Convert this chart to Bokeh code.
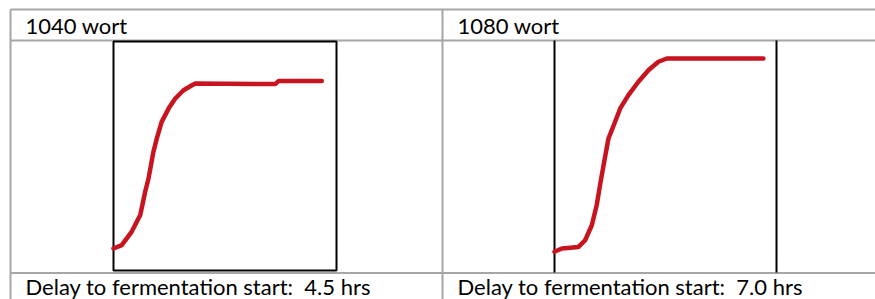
from bokeh.plotting import figure
from bokeh.models import Range1d
from bokeh.embed import file_html
from bokeh.resources import INLINE
from bokeh.core.properties import value

# ---- data (x: relative time, 0-100 ; y: relative fermentation progress, 0-100) ----
titles = ["1040 wort", "1080 wort"]
captions = ["Delay to fermentation start:\u00a0 4.5 hrs", "Delay to fermentation start:\u00a0 7.0 hrs"]

time_1040 = [0, 3.7, 8.2, 12.0, 14.2, 15.7, 17.9, 19.4, 21.6, 24.7, 27.7, 31.4, 35.2, 36.7, 72.5, 74.0, 93.4]
prog_1040 = [9.6, 11.1, 17.0, 24.2, 34.4, 40.2, 51.8, 57.6, 64.9, 70.7, 75.1, 78.7, 80.9, 81.7, 81.4, 82.7, 82.7]

time_1080 = [0, 3.3, 10.8, 13.8, 16.8, 19.0, 20.5, 22.1, 24.3, 27.3, 29.6, 33.3, 37.8, 42.3, 46.8, 50.6, 94.1]
prog_1080 = [8.6, 10.0, 10.7, 13.6, 20.1, 28.8, 37.5, 46.2, 57.8, 65.1, 70.9, 76.7, 82.5, 87.5, 91.2, 92.6, 92.6]

# ---- layout (image pixel coordinates) ----
W, H = 875, 299
OX, OY = 0, 0
p = figure(width=W, height=H, output_backend="svg", toolbar_location=None,
           x_range=Range1d(OX, OX + W), y_range=Range1d(OY + H, OY),
           min_border=0, min_border_left=0, min_border_right=0,
           min_border_top=0, min_border_bottom=0)
p.xaxis.visible = False
p.yaxis.visible = False
p.grid.visible = False
p.outline_line_color = None
p.background_fill_color = "white"
p.border_fill_color = "white"

GRAY = "#a6a6a6"
# table lines
p.segment(x0=[10, 10, 10], y0=[9, 40, 272.5], x1=[875, 875, 875], y1=[9, 40, 272.5],
          line_color=GRAY, line_width=2)
p.segment(x0=[10, 442], y0=[9, 9], x1=[10, 442], y1=[299, 299],
          line_color=GRAY, line_width=2)

FONT = value("Lato")
FS = "22px"
p.text(x=[25, 457], y=[24.5, 24.5], text=titles, text_font=FONT, text_font_size=FS,
       text_color="black", text_baseline="alphabetic", text_align="left")
p.text(x=[25, 457], y=[286, 286], text=captions, text_font=FONT, text_font_size=FS,
       text_color="black", text_baseline="alphabetic", text_align="left")

# chart frames
boxes = [(113, 336, 41, 270), (554, 776, 41, 271)]

def add_ranges(name, box):
    left, right, top, bottom = box
    sx = 100.0 / (right - left)
    sy = 100.0 / (bottom - top)
    p.extra_x_ranges[name] = Range1d((OX - left) * sx, (OX + W - left) * sx)
    p.extra_y_ranges[name] = Range1d((bottom - (OY + H)) * sy, (bottom - OY) * sy)

add_ranges("c1", boxes[0])
add_ranges("c2", boxes[1])

# chart 1 border (full box)
l, r, t, b = boxes[0]
p.quad(left=[l], right=[r], top=[t], bottom=[b], fill_color=None,
       line_color="black", line_width=2)
# chart 2 border (vertical sides only)
l2, r2, t2, b2 = boxes[1]
p.segment(x0=[l2, r2], y0=[40, 40], x1=[l2, r2], y1=[272, 272],
          line_color="black", line_width=2)

RED = "#c8141e"
p.line(time_1040, prog_1040, x_range_name="c1", y_range_name="c1",
       line_color=RED, line_width=4.5, line_join="round", line_cap="round")
p.line(time_1080, prog_1080, x_range_name="c2", y_range_name="c2",
       line_color=RED, line_width=4.5, line_join="round", line_cap="round")

open("out.html", "w").write(file_html(p, INLINE))
